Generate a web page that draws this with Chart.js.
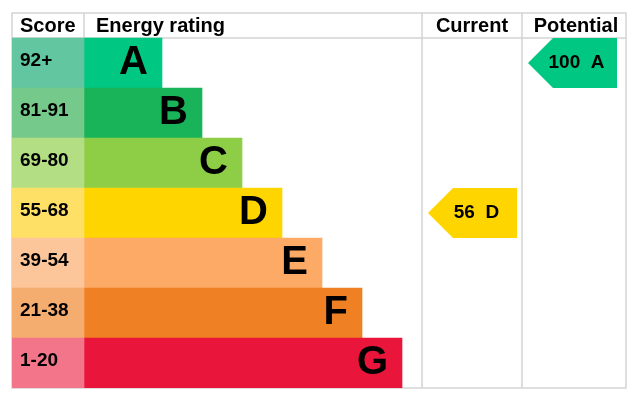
<!DOCTYPE html>
<html>
<head>
<meta charset="utf-8">
<script src="https://cdn.jsdelivr.net/npm/chart.js@4.4.1/dist/chart.umd.min.js"></script>
<style>
  html, body { margin: 0; padding: 0; background: #fff; }
  canvas { display: block; }
</style>
</head>
<body>
<canvas id="epcChart" width="640" height="400"></canvas>
<script>
/* ============================================
   DATA
============================================ */
const bands = ['A', 'B', 'C', 'D', 'E', 'F', 'G'];
const scoreRanges = ['92+', '81-91', '69-80', '55-68', '39-54', '21-38', '1-20'];
const bandMinScores = [92, 81, 69, 55, 39, 21, 1];
const columnTitles = ['Score', 'Energy rating', 'Current', 'Potential'];
const currentScore = 56;
const potentialScore = 100;

/* ============================================
   STYLE / LAYOUT
============================================ */
const barColors   = ['#00c781', '#19b459', '#8dce46', '#ffd500', '#fcaa65', '#ef8023', '#e9153b'];
const scoreColors = ['#62c6a1', '#74c98b', '#b3de83', '#ffe066', '#fdc59a', '#f4ac6f', '#f2758a'];
const GRID = '#d4d4d4';
const FONT = "'Liberation Sans', Arial, sans-serif";

// column edges in x-scale units
const SCORE_END = 72;
const RATING_END = 410;
const CURRENT_END = 510;
const TOTAL = 614;
const BAR_BASE = 78;   // length of the A bar
const BAR_STEP = 40;   // each band is a bit longer

function bandIndex(score) {
    for (let i = 0; i < bandMinScores.length; i++) {
        if (score >= bandMinScores[i]) return i;
    }
    return bandMinScores.length - 1;
}

/* ============================================
   DRAWING PLUGIN (grid, labels, arrows)
============================================ */
function drawArrow(chart, score, colLeft) {
    const { ctx, scales: { x, y } } = chart;
    const i = bandIndex(score);
    const yTop = y.getPixelForValue(i);
    const yBot = y.getPixelForValue(i + 1);
    const yMid = (yTop + yBot) / 2;
    const xl = x.getPixelForValue(colLeft + 6);
    const xr = x.getPixelForValue(colLeft + 95);
    const notch = (yBot - yTop) / 2;

    ctx.fillStyle = barColors[i];
    ctx.beginPath();
    ctx.moveTo(xl, yMid);
    ctx.lineTo(xl + notch, yTop);
    ctx.lineTo(xr, yTop);
    ctx.lineTo(xr, yBot);
    ctx.lineTo(xl + notch, yBot);
    ctx.closePath();
    ctx.fill();

    ctx.fillStyle = '#000';
    ctx.font = 'bold 19px ' + FONT;
    ctx.textAlign = 'center';
    ctx.textBaseline = 'middle';
    ctx.fillText(score + '  ' + bands[i], (xl + xr) / 2 + 4, yMid);
}

const epcPlugin = {
    id: 'epcTable',
    beforeDatasetsDraw(chart) {
        const { ctx, scales: { x, y } } = chart;
        const top = y.getPixelForValue(-0.5);
        const head = y.getPixelForValue(0);
        const bot = y.getPixelForValue(bands.length);
        const left = x.getPixelForValue(0);
        const right = x.getPixelForValue(TOTAL);

        ctx.save();
        ctx.strokeStyle = GRID;
        ctx.lineWidth = 1.5;
        ctx.strokeRect(left, top, right - left, bot - top);
        ctx.beginPath();
        ctx.moveTo(left, head); ctx.lineTo(right, head);
        [SCORE_END, RATING_END, CURRENT_END].forEach(v => {
            const px = x.getPixelForValue(v);
            ctx.moveTo(px, top); ctx.lineTo(px, bot);
        });
        ctx.stroke();
        ctx.restore();
    },
    afterDatasetsDraw(chart) {
        const { ctx, scales: { x, y } } = chart;
        ctx.save();
        ctx.fillStyle = '#000';
        ctx.textBaseline = 'middle';

        // header titles
        const headMid = y.getPixelForValue(-0.25) + 1;
        ctx.font = 'bold 20px ' + FONT;
        ctx.textAlign = 'left';
        ctx.fillText(columnTitles[0], x.getPixelForValue(8), headMid);
        ctx.fillText(columnTitles[1], x.getPixelForValue(SCORE_END + 12), headMid);
        ctx.textAlign = 'center';
        ctx.fillText(columnTitles[2], x.getPixelForValue((RATING_END + CURRENT_END) / 2), headMid);
        ctx.fillText(columnTitles[3], x.getPixelForValue((CURRENT_END + TOTAL) / 2 + 2), headMid);

        // score ranges + band letters
        bands.forEach((b, i) => {
            const yMid = y.getPixelForValue(i + 0.5);
            ctx.font = 'bold 19px ' + FONT;
            ctx.textAlign = 'left';
            ctx.fillText(scoreRanges[i], x.getPixelForValue(8), yMid - 2);
            ctx.font = 'bold 40px ' + FONT;
            ctx.textAlign = 'right';
            ctx.fillText(b, x.getPixelForValue(SCORE_END + BAR_BASE + BAR_STEP * i - 14), yMid);
        });

        drawArrow(chart, currentScore, RATING_END);
        drawArrow(chart, potentialScore, CURRENT_END);
        ctx.restore();
    }
};

/* ============================================
   CHART
============================================ */
function initEpc() {
    const canvas = document.getElementById('epcChart');
    if (!canvas) return;

    new Chart(canvas.getContext('2d'), {
        type: 'bar',
        data: {
            datasets: [{
                label: 'Score',
                data: bands.map((b, i) => ({ x: [0, SCORE_END], y: i + 0.5 })),
                backgroundColor: scoreColors
            }, {
                label: 'Energy rating',
                data: bands.map((b, i) => ({ x: [SCORE_END, SCORE_END + BAR_BASE + BAR_STEP * i], y: i + 0.5 })),
                backgroundColor: barColors
            }]
        },
        options: {
            indexAxis: 'y',
            responsive: false,
            animation: false,
            grouped: false,
            barPercentage: 1,
            categoryPercentage: 1,
            borderWidth: 0,
            layout: { padding: { left: 12, right: 14, top: 13, bottom: 12 } },
            plugins: {
                legend: { display: false },
                tooltip: { enabled: false }
            },
            scales: {
                x: { type: 'linear', min: 0, max: TOTAL, display: false },
                y: {
                    type: 'linear',
                    min: -0.5,
                    max: bands.length,
                    reverse: true,
                    offset: false,
                    display: false,
                    // one tick per band row so bars fill the row height
                    afterBuildTicks: scale => {
                        scale.ticks = bands.map((b, i) => ({ value: i + 0.5 }));
                    }
                }
            }
        },
        plugins: [epcPlugin]
    });
}

document.addEventListener('DOMContentLoaded', initEpc);
</script>
</body>
</html>
